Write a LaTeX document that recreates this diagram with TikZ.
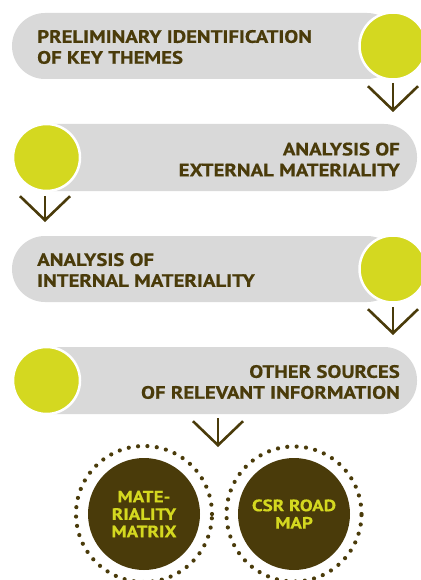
\documentclass[tikz,border=0pt]{standalone}
\usepackage{fontspec}
\setmainfont{PT Sans}
\newfontfamily\diagfont[FakeStretch=1.16, BoldFeatures={FakeBold=0.5}]{PT Sans}
\usetikzlibrary{arrows.meta}
\definecolor{barGray}{HTML}{D9D9D9}
\definecolor{lime}{HTML}{D4D820}
\definecolor{darkBrown}{HTML}{4A3B0A}
\begin{document}
\begin{tikzpicture}[x=1bp,y=-1bp,
  bar/.style={fill=barGray, rounded corners=33bp, inner sep=0pt, minimum height=66bp},
  dot/.style={circle, fill=lime, draw=white, line width=2.5bp, minimum size=67bp, inner sep=0pt},
  bartext/.style={text=darkBrown, font=\diagfont\fontsize{18}{21}\selectfont\bfseries, inner sep=0pt},
  vflow/.style={draw=darkBrown, line width=2.6bp, -{Straight Barb[length=24bp,width=50bp]}},
  outcome/.style={circle, fill=darkBrown, minimum size=112bp, inner sep=0pt, text=lime, align=center, font=\diagfont\fontsize{16.5}{17.5}\selectfont\bfseries},
  ring/.style={draw=darkBrown, line width=4.2bp, line cap=round, dash pattern=on 0bp off 9.4bp}
]
\useasboundingbox (0,0) rectangle (420,580);
% bars
\node[bar, minimum width=388bp] (b1) at (206,46) {};
\node[bar, minimum width=397bp, minimum height=67bp] (b2) at (218.5,157.5) {};
\node[bar, minimum width=388bp] (b3) at (206,269) {};
\node[bar, minimum width=397bp, minimum height=67bp] (b4) at (218.5,380.5) {};
% circles
\node[dot] (c1) at (393,46) {};
\node[dot] (c2) at (46.5,157.5) {};
\node[dot] (c3) at (393,269) {};
\node[dot] (c4) at (46.5,380.5) {};
% texts
\node[bartext, anchor=west, align=left] (t1) at (37,47) {PRELIMINARY IDENTIFICATION\\OF KEY THEMES};
\node[bartext, anchor=east, align=right] (t2) at (400,159.5) {ANALYSIS OF\\EXTERNAL MATERIALITY};
\node[bartext, anchor=west, align=left] (t3) at (37,270) {ANALYSIS OF\\INTERNAL MATERIALITY};
\node[bartext, anchor=east, align=right] (t4) at (400,382) {OTHER SOURCES\\OF RELEVANT INFORMATION};
% arrows
\coordinate (a1s) at (393,83); \coordinate (a1e) at (393,112);
\coordinate (a2s) at (45,196);  \coordinate (a2e) at (45,222);
\coordinate (a3s) at (393,307); \coordinate (a3e) at (393,335);
\coordinate (a4s) at (218,418); \coordinate (a4e) at (218,447);
\draw[vflow] (a1s) -- (a1e);
\draw[vflow] (a2s) -- (a2e);
\draw[vflow] (a3s) -- (a3e);
\draw[vflow] (a4s) -- (a4e);
% outcomes
\node[outcome] (m1) at (144,514) {MATE-\\RIALITY\\MATRIX};
\node[outcome] (m2) at (294,514) {CSR ROAD\\MAP};
\draw[ring] (m1.center) circle[radius=68bp];
\draw[ring] (m2.center) circle[radius=67.5bp];
\end{tikzpicture}
\end{document}
